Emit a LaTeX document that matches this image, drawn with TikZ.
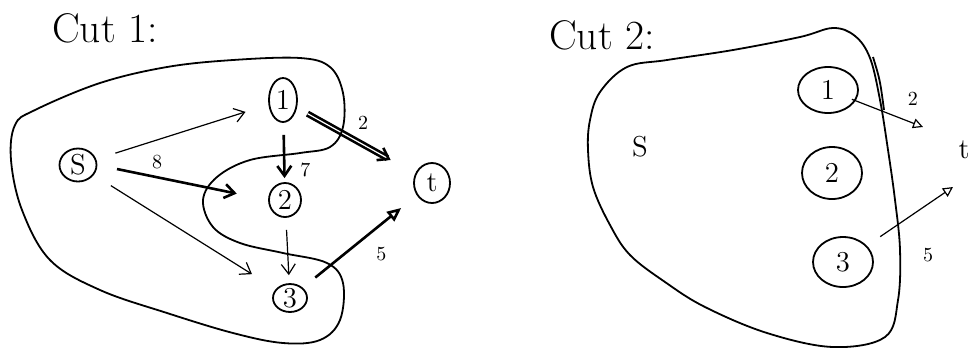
\documentclass[tikz,border=0pt]{standalone}
\usetikzlibrary{shapes.geometric,arrows.meta,positioning,calc}

\begin{document}
\begin{tikzpicture}[
    x=0.5pt, y=-0.5pt,
    vtx/.style={draw, ellipse, inner sep=0pt, line width=0.9pt, font=\Large},
    wt/.style={font=\normalsize},
    ttl/.style={font=\huge},
    cut/.style={line width=0.9pt, -},
    thin/.style={line width=0.6pt},
    heavy/.style={line width=1.3pt},
    ->, >={Straight Barb[length=5pt,width=7pt]}
]
\useasboundingbox (0,0) rectangle (972,350);

% cut 1
\node[ttl] (tt1) at (105,28) {Cut 1:};
\node[vtx, minimum width=18.5, minimum height=16.5] (s1) at (78,165) {S};
\node[vtx, minimum width=14, minimum height=22] (a1) at (283,100) {1};
\node[vtx, minimum width=16, minimum height=17] (b1) at (285,200) {2};
\node[vtx, minimum width=17, minimum height=13] (c1) at (290,298) {3};
\node[vtx, minimum width=18, minimum height=20] (t1) at (432,183) {t};

\draw[thin, shorten <=10pt, shorten >=12pt] (s1) -- (a1);
\draw[heavy, shorten <=10pt, shorten >=16pt] (s1.east) -- (b1.west) node[wt, pos=0.35, above] {8};
\draw[thin, shorten <=10pt, shorten >=14pt] (s1) -- (c1);
\draw[heavy, shorten <=6pt, shorten >=2pt] (a1) -- (b1) node[wt, pos=0.8, right=4pt] {7};
\draw[thin, shorten <=6pt, shorten >=4pt] (b1) -- (c1);
\draw[heavy, double, shorten <=6pt, shorten >=14pt] (a1) -- (t1) node[wt, pos=0.45, above right] {2};
\draw[heavy, -{Triangle[open,length=7pt,width=6pt]}, shorten <=8pt, shorten >=10pt] (c1) -- (t1) node[wt, pos=0.55, below right=2pt] {5};

\draw[cut] plot[smooth cycle, tension=0.6] coordinates {
  (15,125) (35,110) (100,83) (167,67) (233,60) (300,58) (330,67) (343,93) (343,127)
  (330,147) (300,153) (250,160) (217,177) (203,200) (213,227) (240,243)
  (283,253) (327,263) (343,283) (340,320) (320,340) (283,343) (233,333)
  (167,313) (100,290) (50,260) (22,210) (11,160)};

% cut 2
\node[ttl] (tt2) at (602,35) {Cut 2:};
\node[font=\Large] (s2) at (640,147) {S};
\node[vtx, minimum width=30, minimum height=23] (a2) at (828,90) {1};
\node[vtx, minimum width=30, minimum height=26] (b2) at (832,173) {2};
\node[vtx, minimum width=30, minimum height=25] (c2) at (843,262) {3};
\node[font=\Large] (t2) at (964,150) {t};
\coordinate (e1) at (923,127);
\coordinate (e3) at (953,187);

\draw[thin, -{Triangle[open,length=5pt,width=5pt]}, shorten <=-2pt] (a2) -- (e1) node[wt, pos=0.85, above=5pt] {2};
\draw[thin, -{Triangle[open,length=5pt,width=5pt]}, shorten <=8pt] (c2) -- (e3);
\node[wt] (w5) at (928,255) {5};

\draw[cut] plot[smooth cycle, tension=0.6] coordinates {
  (627,67) (600,92) (590,120) (588,150) (593,187) (610,225) (630,255)
  (665,282) (705,307) (767,333) (833,347) (885,337) (898,300) (900,250)
  (895,200) (888,150) (880,100) (870,58) (855,36) (833,28) (800,37)
  (733,50) (667,60)};
\draw[cut] (873,57) .. controls (880,80) .. (884,110);
\end{tikzpicture}
\end{document}
